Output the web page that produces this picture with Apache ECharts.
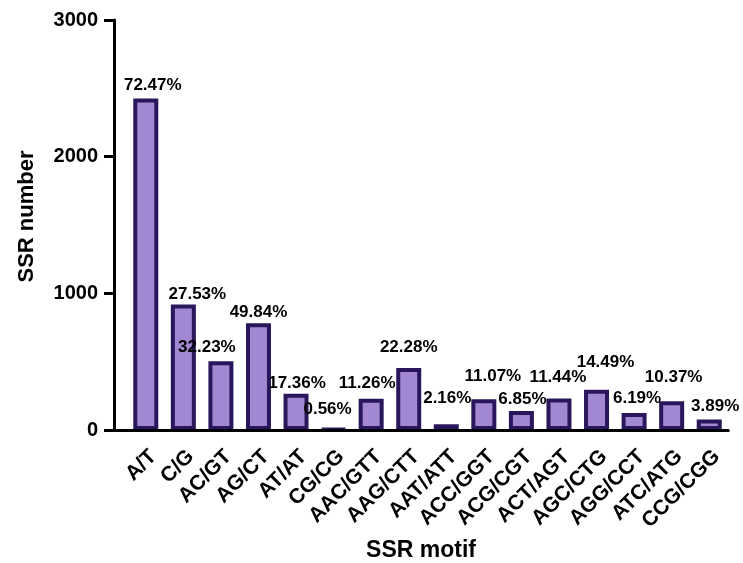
<!DOCTYPE html>
<html>
<head>
<meta charset="utf-8">
<script src="https://cdn.jsdelivr.net/npm/echarts@6/dist/echarts.min.js"></script>
<style>
html,body{margin:0;padding:0;background:#fff;}
#chart{width:743px;height:563px;}
</style>
</head>
<body>
<div id="chart"></div>
<script>
const categories = ['A/T','C/G','AC/GT','AG/CT','AT/AT','CG/CG','AAC/GTT','AAG/CTT','AAT/ATT','ACC/GGT','ACG/CGT','ACT/AGT','AGC/CTG','AGG/CCT','ATC/ATG','CCG/CGG'];
const counts = [2425, 918, 503, 782, 266, 9, 229, 454, 42, 225, 139, 231, 295, 124, 210, 76];
const percents = ['72.47%','27.53%','32.23%','49.84%','17.36%','0.56%','11.26%','22.28%','2.16%','11.07%','6.85%','11.44%','14.49%','6.19%','10.37%','3.89%'];
const yTickValues = [0, 1000, 2000, 3000];

// label nudges (presentation only)
const labelDx = [7, 14, -14, 0, 1, -6, -4, 0, 1, 9, 1, -1, 9, 3, 2, 6];
const labelDy = [-5, -2, -5, -2, -2, -10, -7, -12, -17, -14, -3, -13, -19, -6, -15, -5];

const FONT = '"Liberation Sans", Arial, sans-serif';
const chart = echarts.init(document.getElementById('chart'), null, {renderer: 'canvas'});

const seriesData = counts.map((v, i) => ({
  value: v,
  label: { offset: [labelDx[i], labelDy[i]], formatter: percents[i] }
}));

chart.setOption({
  animation: false,
  backgroundColor: '#fff',
  grid: [
    { left: 127, right: 15, top: 20, bottom: 133, outerBoundsMode: 'none' },
    { left: 114, right: 15, top: 20, bottom: 133, outerBoundsMode: 'none' }
  ],
  xAxis: [
    {
      type: 'category', gridIndex: 0, data: categories,
      axisLine: { show: true, onZero: false, lineStyle: { color: '#000', width: 3 } },
      axisTick: { show: false },
      axisLabel: {
        rotate: 45, verticalAlign: 'top', margin: 16, interval: 0,
        color: '#000', fontFamily: FONT, fontWeight: 'bold', fontSize: 21
      },
      splitLine: { show: false }
    },
    {
      type: 'value', gridIndex: 1, min: 0, max: 1, z: 5,
      axisLine: { show: true, onZero: false, lineStyle: { color: '#000', width: 3 } },
      axisTick: { show: false }, axisLabel: { show: false }, splitLine: { show: false },
      name: 'SSR motif', nameLocation: 'middle', nameGap: 109,
      nameTextStyle: { color: '#000', fontFamily: FONT, fontWeight: 'bold', fontSize: 23 }
    }
  ],
  yAxis: [
    {
      type: 'value', gridIndex: 0, min: 0, max: 3000, interval: 1000, offset: 13,
      axisLine: { show: true, lineStyle: { color: '#000', width: 3 } },
      axisTick: { show: true, length: 10, lineStyle: { color: '#000', width: 3 } },
      axisLabel: {
        margin: 16, color: '#000', fontFamily: FONT, fontWeight: 'bold', fontSize: 20,
        formatter: v => (yTickValues.indexOf(v) >= 0 ? String(v) : '')
      },
      splitLine: { show: false },
      name: 'SSR number', nameLocation: 'middle', nameGap: 76,
      nameTextStyle: { color: '#000', fontFamily: FONT, fontWeight: 'bold', fontSize: 22, padding: [0, 0, 0, 17] }
    },
    { type: 'value', gridIndex: 1, show: false, min: 0, max: 1 }
  ],
  series: [
    {
      type: 'bar', xAxisIndex: 0, yAxisIndex: 0,
      data: seriesData,
      barWidth: 25,
      itemStyle: { color: '#a287d3', borderColor: '#2a165a', borderWidth: 4 },
      label: {
        show: true, position: 'top', distance: 0,
        color: '#000', fontFamily: FONT, fontWeight: 'bold', fontSize: 17
      }
    }
  ]
});
</script>
</body>
</html>
